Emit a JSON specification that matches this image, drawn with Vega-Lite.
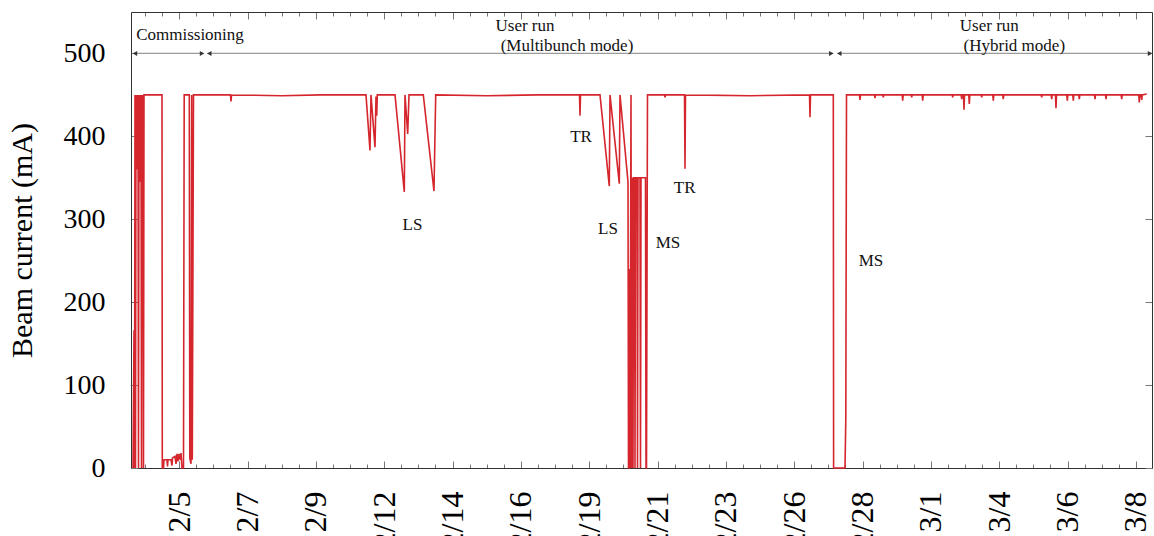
{
  "$schema": "https://vega.github.io/schema/vega-lite/v6.json",
  "width": 1021,
  "height": 456,
  "autosize": {"type": "none"},
  "padding": {"left": 131, "top": 12, "right": 2, "bottom": 68},
  "background": "white",
  "config": {
    "font": "Liberation Serif",
    "view": {"stroke": null},
    "axis": {"grid": false, "domainColor": "#333", "domainWidth": 1, "tickColor": "#777", "tickWidth": 1, "labelColor": "#000", "titleColor": "#000"}
  },
  "datasets": {
    "current": [
      {"t": "2016-02-03T10:08Z", "mA": 0},
      {"t": "2016-02-03T10:58Z", "mA": 166},
      {"t": "2016-02-03T11:22Z", "mA": 0},
      {"t": "2016-02-03T11:47Z", "mA": 450},
      {"t": "2016-02-03T12:11Z", "mA": 0},
      {"t": "2016-02-03T12:36Z", "mA": 450},
      {"t": "2016-02-03T13:01Z", "mA": 400},
      {"t": "2016-02-03T13:25Z", "mA": 450},
      {"t": "2016-02-03T13:50Z", "mA": 360},
      {"t": "2016-02-03T14:14Z", "mA": 450},
      {"t": "2016-02-03T14:39Z", "mA": 0},
      {"t": "2016-02-03T15:03Z", "mA": 450},
      {"t": "2016-02-03T15:28Z", "mA": 380},
      {"t": "2016-02-03T15:52Z", "mA": 450},
      {"t": "2016-02-03T16:17Z", "mA": 345},
      {"t": "2016-02-03T16:41Z", "mA": 450},
      {"t": "2016-02-03T17:06Z", "mA": 0},
      {"t": "2016-02-03T17:31Z", "mA": 450},
      {"t": "2016-02-03T17:55Z", "mA": 350},
      {"t": "2016-02-03T18:20Z", "mA": 450},
      {"t": "2016-02-03T18:44Z", "mA": 0},
      {"t": "2016-02-03T19:09Z", "mA": 450},
      {"t": "2016-02-04T09:54Z", "mA": 450},
      {"t": "2016-02-04T10:09Z", "mA": 0},
      {"t": "2016-02-04T11:08Z", "mA": 0},
      {"t": "2016-02-04T11:32Z", "mA": 10},
      {"t": "2016-02-04T14:00Z", "mA": 10},
      {"t": "2016-02-04T14:25Z", "mA": 2},
      {"t": "2016-02-04T14:49Z", "mA": 10},
      {"t": "2016-02-04T17:17Z", "mA": 10},
      {"t": "2016-02-04T18:06Z", "mA": 3},
      {"t": "2016-02-04T18:31Z", "mA": 12},
      {"t": "2016-02-04T20:34Z", "mA": 14},
      {"t": "2016-02-04T21:23Z", "mA": 5},
      {"t": "2016-02-04T22:12Z", "mA": 17},
      {"t": "2016-02-04T23:01Z", "mA": 8},
      {"t": "2016-02-04T23:50Z", "mA": 17},
      {"t": "2016-02-05T00:39Z", "mA": 10},
      {"t": "2016-02-05T01:28Z", "mA": 18},
      {"t": "2016-02-05T02:17Z", "mA": 0},
      {"t": "2016-02-05T03:31Z", "mA": 0},
      {"t": "2016-02-05T04:06Z", "mA": 450},
      {"t": "2016-02-05T08:17Z", "mA": 450},
      {"t": "2016-02-05T08:41Z", "mA": 12},
      {"t": "2016-02-05T09:40Z", "mA": 5},
      {"t": "2016-02-05T10:15Z", "mA": 450},
      {"t": "2016-02-05T10:44Z", "mA": 10},
      {"t": "2016-02-05T11:43Z", "mA": 450},
      {"t": "2016-02-06T18:02Z", "mA": 450},
      {"t": "2016-02-06T18:27Z", "mA": 442},
      {"t": "2016-02-06T18:52Z", "mA": 450},
      {"t": "2016-02-08T12:00Z", "mA": 449},
      {"t": "2016-02-09T20:00Z", "mA": 450},
      {"t": "2016-02-11T09:05Z", "mA": 450},
      {"t": "2016-02-11T12:22Z", "mA": 383},
      {"t": "2016-02-11T13:11Z", "mA": 450},
      {"t": "2016-02-11T16:28Z", "mA": 387},
      {"t": "2016-02-11T17:17Z", "mA": 448},
      {"t": "2016-02-11T17:52Z", "mA": 425},
      {"t": "2016-02-11T18:21Z", "mA": 450},
      {"t": "2016-02-12T08:52Z", "mA": 450},
      {"t": "2016-02-12T16:29Z", "mA": 333},
      {"t": "2016-02-12T17:03Z", "mA": 450},
      {"t": "2016-02-12T19:16Z", "mA": 403},
      {"t": "2016-02-12T20:20Z", "mA": 450},
      {"t": "2016-02-13T08:03Z", "mA": 450},
      {"t": "2016-02-13T16:49Z", "mA": 334},
      {"t": "2016-02-13T18:13Z", "mA": 450},
      {"t": "2016-02-15T12:00Z", "mA": 449},
      {"t": "2016-02-17T06:00Z", "mA": 450},
      {"t": "2016-02-18T16:04Z", "mA": 450},
      {"t": "2016-02-18T16:28Z", "mA": 425},
      {"t": "2016-02-18T16:53Z", "mA": 450},
      {"t": "2016-02-19T08:52Z", "mA": 450},
      {"t": "2016-02-19T16:29Z", "mA": 340},
      {"t": "2016-02-19T17:04Z", "mA": 450},
      {"t": "2016-02-20T00:41Z", "mA": 343},
      {"t": "2016-02-20T01:15Z", "mA": 450},
      {"t": "2016-02-20T07:49Z", "mA": 345},
      {"t": "2016-02-20T08:13Z", "mA": 0},
      {"t": "2016-02-20T08:38Z", "mA": 0},
      {"t": "2016-02-20T09:07Z", "mA": 240},
      {"t": "2016-02-20T09:27Z", "mA": 0},
      {"t": "2016-02-20T10:16Z", "mA": 450},
      {"t": "2016-02-20T10:41Z", "mA": 0},
      {"t": "2016-02-20T11:30Z", "mA": 350},
      {"t": "2016-02-20T11:55Z", "mA": 0},
      {"t": "2016-02-20T12:19Z", "mA": 350},
      {"t": "2016-02-20T13:08Z", "mA": 350},
      {"t": "2016-02-20T13:33Z", "mA": 0},
      {"t": "2016-02-20T13:58Z", "mA": 350},
      {"t": "2016-02-20T15:11Z", "mA": 350},
      {"t": "2016-02-20T15:36Z", "mA": 0},
      {"t": "2016-02-20T16:01Z", "mA": 350},
      {"t": "2016-02-20T17:38Z", "mA": 350},
      {"t": "2016-02-20T18:03Z", "mA": 0},
      {"t": "2016-02-20T18:28Z", "mA": 350},
      {"t": "2016-02-20T22:09Z", "mA": 350},
      {"t": "2016-02-20T22:34Z", "mA": 0},
      {"t": "2016-02-20T22:58Z", "mA": 0},
      {"t": "2016-02-20T23:23Z", "mA": 230},
      {"t": "2016-02-20T23:47Z", "mA": 450},
      {"t": "2016-02-21T13:43Z", "mA": 450},
      {"t": "2016-02-21T14:08Z", "mA": 447},
      {"t": "2016-02-21T14:32Z", "mA": 450},
      {"t": "2016-02-22T06:07Z", "mA": 450},
      {"t": "2016-02-22T06:32Z", "mA": 361},
      {"t": "2016-02-22T06:56Z", "mA": 450},
      {"t": "2016-02-24T12:00Z", "mA": 449},
      {"t": "2016-02-26T12:34Z", "mA": 450},
      {"t": "2016-02-26T12:58Z", "mA": 423},
      {"t": "2016-02-26T13:23Z", "mA": 450},
      {"t": "2016-02-27T08:04Z", "mA": 450},
      {"t": "2016-02-27T08:19Z", "mA": 0},
      {"t": "2016-02-27T17:39Z", "mA": 0},
      {"t": "2016-02-27T18:19Z", "mA": 60},
      {"t": "2016-02-27T18:53Z", "mA": 450},
      {"t": "2016-02-28T05:31Z", "mA": 450},
      {"t": "2016-02-28T05:56Z", "mA": 444},
      {"t": "2016-02-28T06:21Z", "mA": 450},
      {"t": "2016-02-28T17:49Z", "mA": 450},
      {"t": "2016-02-28T18:14Z", "mA": 446},
      {"t": "2016-02-28T18:39Z", "mA": 450},
      {"t": "2016-02-29T00:37Z", "mA": 450},
      {"t": "2016-02-29T01:02Z", "mA": 447},
      {"t": "2016-02-29T01:27Z", "mA": 450},
      {"t": "2016-02-29T16:31Z", "mA": 450},
      {"t": "2016-02-29T16:56Z", "mA": 443},
      {"t": "2016-02-29T17:21Z", "mA": 450},
      {"t": "2016-02-29T23:54Z", "mA": 450},
      {"t": "2016-03-01T00:19Z", "mA": 447},
      {"t": "2016-03-01T00:44Z", "mA": 450},
      {"t": "2016-03-01T08:55Z", "mA": 450},
      {"t": "2016-03-01T09:20Z", "mA": 443},
      {"t": "2016-03-01T09:45Z", "mA": 450},
      {"t": "2016-03-02T09:30Z", "mA": 450},
      {"t": "2016-03-02T09:55Z", "mA": 447},
      {"t": "2016-03-02T10:20Z", "mA": 450},
      {"t": "2016-03-02T16:52Z", "mA": 450},
      {"t": "2016-03-02T17:17Z", "mA": 445},
      {"t": "2016-03-02T17:42Z", "mA": 450},
      {"t": "2016-03-02T18:46Z", "mA": 450},
      {"t": "2016-03-02T19:11Z", "mA": 432},
      {"t": "2016-03-02T19:36Z", "mA": 450},
      {"t": "2016-03-02T23:06Z", "mA": 450},
      {"t": "2016-03-02T23:31Z", "mA": 439},
      {"t": "2016-03-02T23:56Z", "mA": 450},
      {"t": "2016-03-03T09:16Z", "mA": 450},
      {"t": "2016-03-03T09:41Z", "mA": 447},
      {"t": "2016-03-03T10:06Z", "mA": 450},
      {"t": "2016-03-03T18:46Z", "mA": 450},
      {"t": "2016-03-03T19:11Z", "mA": 443},
      {"t": "2016-03-03T19:36Z", "mA": 450},
      {"t": "2016-03-04T02:58Z", "mA": 450},
      {"t": "2016-03-04T03:23Z", "mA": 445},
      {"t": "2016-03-04T03:48Z", "mA": 450},
      {"t": "2016-03-05T10:26Z", "mA": 450},
      {"t": "2016-03-05T10:51Z", "mA": 447},
      {"t": "2016-03-05T11:16Z", "mA": 450},
      {"t": "2016-03-05T18:37Z", "mA": 450},
      {"t": "2016-03-05T19:02Z", "mA": 445},
      {"t": "2016-03-05T19:27Z", "mA": 450},
      {"t": "2016-03-05T22:09Z", "mA": 450},
      {"t": "2016-03-05T22:34Z", "mA": 434},
      {"t": "2016-03-05T22:59Z", "mA": 450},
      {"t": "2016-03-06T07:25Z", "mA": 450},
      {"t": "2016-03-06T07:50Z", "mA": 443},
      {"t": "2016-03-06T08:15Z", "mA": 450},
      {"t": "2016-03-06T12:20Z", "mA": 450},
      {"t": "2016-03-06T12:45Z", "mA": 443},
      {"t": "2016-03-06T13:10Z", "mA": 450},
      {"t": "2016-03-06T17:15Z", "mA": 450},
      {"t": "2016-03-06T17:40Z", "mA": 445},
      {"t": "2016-03-06T18:05Z", "mA": 450},
      {"t": "2016-03-07T06:07Z", "mA": 450},
      {"t": "2016-03-07T06:32Z", "mA": 445},
      {"t": "2016-03-07T06:57Z", "mA": 450},
      {"t": "2016-03-07T15:08Z", "mA": 450},
      {"t": "2016-03-07T15:33Z", "mA": 445},
      {"t": "2016-03-07T15:58Z", "mA": 450},
      {"t": "2016-03-08T04:00Z", "mA": 450},
      {"t": "2016-03-08T04:25Z", "mA": 445},
      {"t": "2016-03-08T04:50Z", "mA": 450},
      {"t": "2016-03-08T18:25Z", "mA": 450},
      {"t": "2016-03-08T18:50Z", "mA": 441},
      {"t": "2016-03-08T19:15Z", "mA": 450},
      {"t": "2016-03-08T20:24Z", "mA": 450},
      {"t": "2016-03-08T20:49Z", "mA": 444},
      {"t": "2016-03-08T21:14Z", "mA": 450},
      {"t": "2016-03-09T00:55Z", "mA": 451}
    ],
    "arrows": [
      {"start": "2016-02-03T10:08Z", "end": "2016-02-05T20:19Z", "y": 500},
      {"start": "2016-02-05T23:02Z", "end": "2016-02-27T08:04Z", "y": 500},
      {"start": "2016-02-27T11:20Z", "end": "2016-03-09T05:10Z", "y": 500}
    ],
    "heads": [
      {"t": "2016-02-03T11:47Z", "dir": "left", "y": 500},
      {"t": "2016-02-05T18:41Z", "dir": "right", "y": 500},
      {"t": "2016-02-06T00:40Z", "dir": "left", "y": 500},
      {"t": "2016-02-27T06:25Z", "dir": "right", "y": 500},
      {"t": "2016-02-27T12:59Z", "dir": "left", "y": 500},
      {"t": "2016-03-09T03:37Z", "dir": "right", "y": 500}
    ],
    "notes": [
      {"label": "Commissioning", "t": "2016-02-05T08:51Z", "y": 521.7},
      {"label": "User run", "t": "2016-02-16T19:24Z", "y": 533.7},
      {"label": "(Multibunch mode)", "t": "2016-02-18T05:48Z", "y": 508.4},
      {"label": "User run", "t": "2016-03-03T15:54Z", "y": 533.7},
      {"label": "(Hybrid mode)", "t": "2016-03-04T12:24Z", "y": 508.4},
      {"label": "LS", "t": "2016-02-12T23:12Z", "y": 292.8},
      {"label": "TR", "t": "2016-02-18T17:17Z", "y": 398.8},
      {"label": "LS", "t": "2016-02-19T15:25Z", "y": 288},
      {"label": "MS", "t": "2016-02-21T16:35Z", "y": 271.7},
      {"label": "TR", "t": "2016-02-22T06:16Z", "y": 338},
      {"label": "MS", "t": "2016-02-28T14:57Z", "y": 249.4}
    ]
  },
  "layer": [
    {
      "data": {"name": "current"},
      "mark": {"type": "line", "color": "#d5262e", "strokeWidth": 1.6, "strokeJoin": "miter", "interpolate": "linear"},
      "encoding": {
        "x": {
          "field": "t", "type": "temporal",
          "scale": {"type": "utc", "nice": false, "domain": [
            {"year": 2016, "month": 2, "date": 3, "hours": 8, "minutes": 30, "utc": true},
            {"year": 2016, "month": 3, "date": 9, "hours": 5, "minutes": 15, "utc": true}
          ]},
          "axis": {
            "orient": "bottom", "title": null,
            "values": [1454529600000,1454580000000,1454630400000,1454680800000,1454731200000,1454781600000,1454832000000,1454882400000,1454932800000,1454983200000,1455033600000,1455084000000,1455134400000,1455184800000,1455235200000,1455285600000,1455336000000,1455386400000,1455436800000,1455487200000,1455537600000,1455588000000,1455638400000,1455688800000,1455739200000,1455789600000,1455840000000,1455890400000,1455940800000,1455991200000,1456041600000,1456092000000,1456142400000,1456192800000,1456243200000,1456293600000,1456344000000,1456394400000,1456444800000,1456495200000,1456545600000,1456596000000,1456646400000,1456696800000,1456747200000,1456797600000,1456848000000,1456898400000,1456948800000,1456999200000,1457049600000,1457100000000,1457150400000,1457200800000,1457251200000,1457301600000,1457352000000,1457402400000,1457452800000],
            "labelExpr": "(datum.value - 1454630400000) % 201600000 == 0 ? utcFormat(datum.value, '%-m/%-d') : ''",
            "tickSize": {"condition": {"test": "(datum.value - 1454630400000) % 201600000 == 0", "value": -7}, "value": -4},
            "labelAngle": -90, "labelFontSize": 32, "labelPadding": 30,
            "labelOverlap": false, "labelFlush": false, "labelBound": false
          }
        },
        "y": {
          "field": "mA", "type": "quantitative",
          "scale": {"domain": [0, 550], "nice": false},
          "axis": {
            "orient": "left", "values": [0, 100, 200, 300, 400, 500],
            "tickSize": -7, "labelFontSize": 28, "labelPadding": 33, "labelFlush": false,
            "title": "Beam current (mA)", "titleFontSize": 30, "titleFontWeight": "normal",
            "titleX": -109, "titleY": 228, "titleAngle": -90, "titleAlign": "center", "titleBaseline": "middle"
          }
        }
      }
    },
    {
      "data": {"name": "arrows"},
      "mark": {"type": "rule", "color": "#9a9a9a", "strokeWidth": 1.2},
      "encoding": {
        "x": {
          "field": "start", "type": "temporal",
          "axis": {
            "orient": "top", "title": null, "labels": false,
            "values": [1454529600000,1454580000000,1454630400000,1454680800000,1454731200000,1454781600000,1454832000000,1454882400000,1454932800000,1454983200000,1455033600000,1455084000000,1455134400000,1455184800000,1455235200000,1455285600000,1455336000000,1455386400000,1455436800000,1455487200000,1455537600000,1455588000000,1455638400000,1455688800000,1455739200000,1455789600000,1455840000000,1455890400000,1455940800000,1455991200000,1456041600000,1456092000000,1456142400000,1456192800000,1456243200000,1456293600000,1456344000000,1456394400000,1456444800000,1456495200000,1456545600000,1456596000000,1456646400000,1456696800000,1456747200000,1456797600000,1456848000000,1456898400000,1456948800000,1456999200000,1457049600000,1457100000000,1457150400000,1457200800000,1457251200000,1457301600000,1457352000000,1457402400000,1457452800000],
            "tickSize": {"condition": {"test": "(datum.value - 1454630400000) % 201600000 == 0", "value": -7}, "value": -4}
          }
        },
        "x2": {"field": "end"},
        "y": {
          "field": "y", "type": "quantitative",
          "axis": {"orient": "right", "title": null, "labels": false, "values": [0, 100, 200, 300, 400, 500], "tickSize": -7}
        }
      }
    },
    {
      "data": {"name": "heads"},
      "mark": {"type": "point", "filled": true, "color": "#333", "size": 26, "opacity": 1},
      "encoding": {
        "x": {"field": "t", "type": "temporal", "axis": null},
        "y": {"field": "y", "type": "quantitative", "axis": null},
        "shape": {"field": "dir", "type": "nominal", "scale": {"domain": ["left", "right"], "range": ["triangle-left", "triangle-right"]}, "legend": null}
      }
    },
    {
      "data": {"name": "notes"},
      "mark": {"type": "text", "font": "Liberation Serif", "fontSize": 17, "color": "#111", "align": "center", "baseline": "middle"},
      "encoding": {
        "x": {"field": "t", "type": "temporal", "axis": null},
        "y": {"field": "y", "type": "quantitative", "axis": null},
        "text": {"field": "label"}
      }
    }
  ],
  "resolve": {"axis": {"x": "independent", "y": "independent"}}
}
